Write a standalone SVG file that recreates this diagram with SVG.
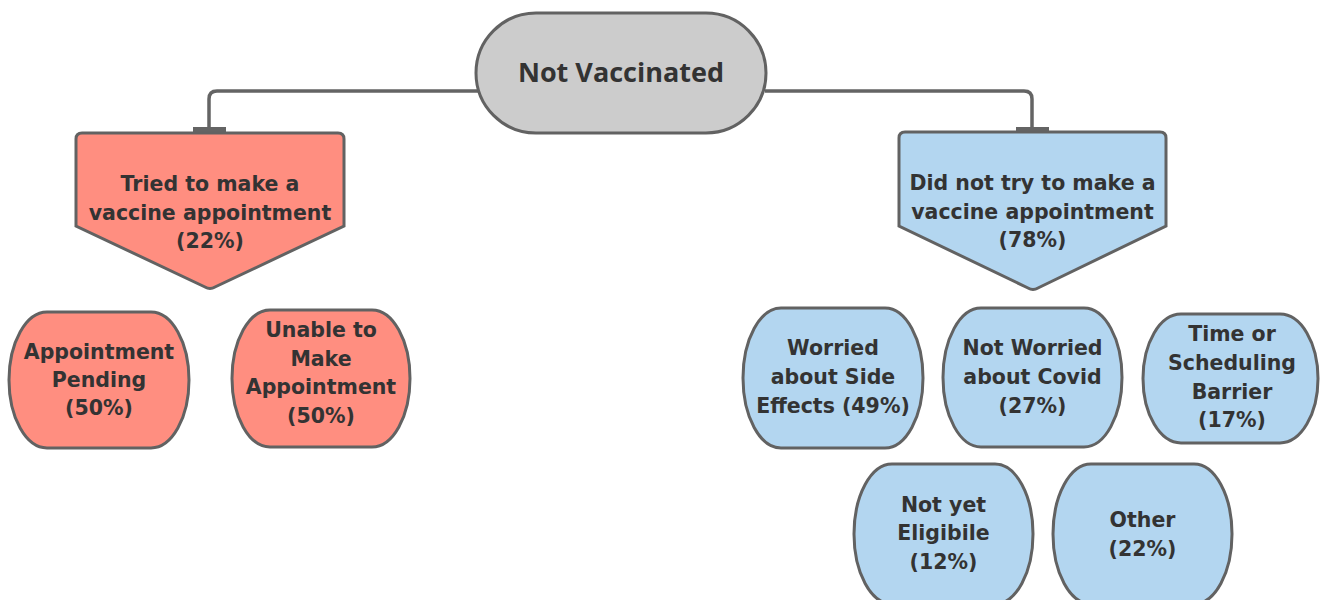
<svg xmlns="http://www.w3.org/2000/svg" width="1320" height="600" viewBox="0 0 1320 600">
<style>
.ln{fill:none;stroke:#646464;stroke-width:3.5;}
.bar{fill:#646464;}
.nd{stroke:#626262;stroke-width:3;}
.red{fill:#FF8E80;}
.blue{fill:#B3D6F0;}
.gray{fill:#CCCCCC;}
.t{font-family:"DejaVu Sans",sans-serif;font-weight:bold;font-size:20.5px;fill:#333333;text-anchor:middle;}
.tr{font-family:"Open Sans",sans-serif;font-weight:bold;font-size:27px;fill:#333333;text-anchor:middle;}
</style>
<rect width="1320" height="600" fill="#ffffff"/>
<g id="connectors">
<path class="ln" d="M 478 91 H 217 Q 209 91 209 99 V 129"/>
<rect class="bar" x="193" y="127" width="33" height="6"/>
<path class="ln" d="M 765 91 H 1024 Q 1032 91 1032 99 V 129"/>
<rect class="bar" x="1016" y="127" width="33" height="6"/>
</g>
<g id="root">
<rect class="nd gray" x="476" y="13" width="290" height="120" rx="60" ry="60"/>
<text class="tr" x="621" y="82">Not Vaccinated</text>
</g>
<g id="tried">
<path class="nd red" d="M 82 133 H 338 Q 344 133 344 139 V 226 L 215 287 Q 210 290 205 287 L 76 226 V 139 Q 76 133 82 133 Z"/>
<text class="t" x="210" y="191">Tried to make a</text>
<text class="t" x="210" y="219.5">vaccine appointment</text>
<text class="t" x="210" y="248">(22%)</text>
</g>
<g id="didnot">
<path class="nd blue" d="M 905 132 H 1160 Q 1166 132 1166 138 V 226 L 1038 288 Q 1033 291 1028 288 L 899 226 V 138 Q 899 132 905 132 Z"/>
<text class="t" x="1032.5" y="190">Did not try to make a</text>
<text class="t" x="1032.5" y="218.5">vaccine appointment</text>
<text class="t" x="1032.5" y="247">(78%)</text>
</g>
<g id="pending">
<path class="nd red" d="M 47 312 H 151 A 38 68 0 0 1 189 380 A 38 68 0 0 1 151 448 H 47 A 38 68 0 0 1 9 380 A 38 68 0 0 1 47 312 Z"/>
<text class="t" x="99" y="359">Appointment</text>
<text class="t" x="99" y="387">Pending</text>
<text class="t" x="99" y="415">(50%)</text>
</g>
<g id="unable">
<path class="nd red" d="M 270 310 H 372 A 38 68.5 0 0 1 410 378.5 A 38 68.5 0 0 1 372 447 H 270 A 38 68.5 0 0 1 232 378.5 A 38 68.5 0 0 1 270 310 Z"/>
<text class="t" x="321" y="337">Unable to</text>
<text class="t" x="321" y="366">Make</text>
<text class="t" x="321" y="394">Appointment</text>
<text class="t" x="321" y="423">(50%)</text>
</g>
<g id="sideeffects">
<path class="nd blue" d="M 781 308 H 885 A 38 70 0 0 1 923 378 A 38 70 0 0 1 885 448 H 781 A 38 70 0 0 1 743 378 A 38 70 0 0 1 781 308 Z"/>
<text class="t" x="833" y="355">Worried</text>
<text class="t" x="833" y="384">about Side</text>
<text class="t" x="833" y="413">Effects (49%)</text>
</g>
<g id="notworried">
<path class="nd blue" d="M 981 308 H 1084 A 38 69.5 0 0 1 1122 377.5 A 38 69.5 0 0 1 1084 447 H 981 A 38 69.5 0 0 1 943 377.5 A 38 69.5 0 0 1 981 308 Z"/>
<text class="t" x="1032.5" y="355">Not Worried</text>
<text class="t" x="1032.5" y="384">about Covid</text>
<text class="t" x="1032.5" y="413">(27%)</text>
</g>
<g id="time">
<path class="nd blue" d="M 1181 314 H 1280 A 38 64.5 0 0 1 1318 378.5 A 38 64.5 0 0 1 1280 443 H 1181 A 38 64.5 0 0 1 1143 378.5 A 38 64.5 0 0 1 1181 314 Z"/>
<text class="t" x="1232" y="341">Time or</text>
<text class="t" x="1232" y="370">Scheduling</text>
<text class="t" x="1232" y="399">Barrier</text>
<text class="t" x="1232" y="427">(17%)</text>
</g>
<g id="eligible">
<path class="nd blue" d="M 892 464 H 995 A 38 70 0 0 1 1033 534 A 38 70 0 0 1 995 604 H 892 A 38 70 0 0 1 854 534 A 38 70 0 0 1 892 464 Z"/>
<text class="t" x="943.5" y="512">Not yet</text>
<text class="t" x="943.5" y="540">Eligibile</text>
<text class="t" x="943.5" y="569">(12%)</text>
</g>
<g id="other">
<path class="nd blue" d="M 1091 464 H 1194 A 38 70 0 0 1 1232 534 A 38 70 0 0 1 1194 604 H 1091 A 38 70 0 0 1 1053 534 A 38 70 0 0 1 1091 464 Z"/>
<text class="t" x="1142.5" y="527">Other</text>
<text class="t" x="1142.5" y="556">(22%)</text>
</g>
</svg>
